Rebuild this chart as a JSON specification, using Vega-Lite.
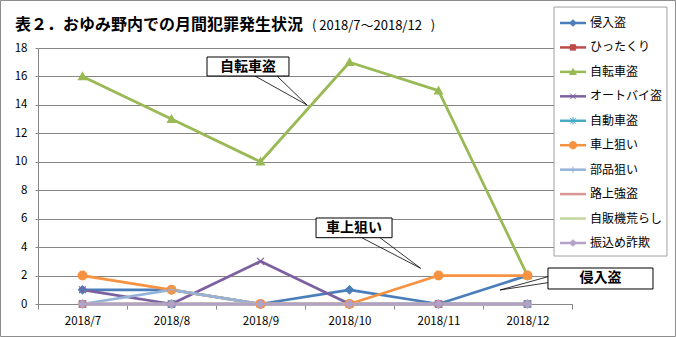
{
  "$schema": "https://vega.github.io/schema/vega-lite/v6.json",
  "width": 534,
  "height": 256,
  "autosize": {"type": "none"},
  "padding": {"left": 38, "top": 48, "right": 104, "bottom": 33},
  "background": "white",
  "config": {
    "view": {"stroke": null},
    "font": "Noto Sans CJK JP",
    "axis": {"labelColor": "black", "labelFont": "Noto Sans CJK JP"}
  },
  "datasets": {
    "crime": [
      {"month": "2018/7", "series": "侵入盗", "count": 1},
      {"month": "2018/8", "series": "侵入盗", "count": 1},
      {"month": "2018/9", "series": "侵入盗", "count": 0},
      {"month": "2018/10", "series": "侵入盗", "count": 1},
      {"month": "2018/11", "series": "侵入盗", "count": 0},
      {"month": "2018/12", "series": "侵入盗", "count": 2},
      {"month": "2018/7", "series": "ひったくり", "count": 0},
      {"month": "2018/8", "series": "ひったくり", "count": 0},
      {"month": "2018/9", "series": "ひったくり", "count": 0},
      {"month": "2018/10", "series": "ひったくり", "count": 0},
      {"month": "2018/11", "series": "ひったくり", "count": 0},
      {"month": "2018/12", "series": "ひったくり", "count": 0},
      {"month": "2018/7", "series": "自転車盗", "count": 16},
      {"month": "2018/8", "series": "自転車盗", "count": 13},
      {"month": "2018/9", "series": "自転車盗", "count": 10},
      {"month": "2018/10", "series": "自転車盗", "count": 17},
      {"month": "2018/11", "series": "自転車盗", "count": 15},
      {"month": "2018/12", "series": "自転車盗", "count": 2},
      {"month": "2018/7", "series": "オートバイ盗", "count": 1},
      {"month": "2018/8", "series": "オートバイ盗", "count": 0},
      {"month": "2018/9", "series": "オートバイ盗", "count": 3},
      {"month": "2018/10", "series": "オートバイ盗", "count": 0},
      {"month": "2018/11", "series": "オートバイ盗", "count": 0},
      {"month": "2018/12", "series": "オートバイ盗", "count": 0},
      {"month": "2018/7", "series": "自動車盗", "count": 0},
      {"month": "2018/8", "series": "自動車盗", "count": 0},
      {"month": "2018/9", "series": "自動車盗", "count": 0},
      {"month": "2018/10", "series": "自動車盗", "count": 0},
      {"month": "2018/11", "series": "自動車盗", "count": 0},
      {"month": "2018/12", "series": "自動車盗", "count": 0},
      {"month": "2018/7", "series": "車上狙い", "count": 2},
      {"month": "2018/8", "series": "車上狙い", "count": 1},
      {"month": "2018/9", "series": "車上狙い", "count": 0},
      {"month": "2018/10", "series": "車上狙い", "count": 0},
      {"month": "2018/11", "series": "車上狙い", "count": 2},
      {"month": "2018/12", "series": "車上狙い", "count": 2},
      {"month": "2018/7", "series": "部品狙い", "count": 0},
      {"month": "2018/8", "series": "部品狙い", "count": 1},
      {"month": "2018/9", "series": "部品狙い", "count": 0},
      {"month": "2018/10", "series": "部品狙い", "count": 0},
      {"month": "2018/11", "series": "部品狙い", "count": 0},
      {"month": "2018/12", "series": "部品狙い", "count": 0},
      {"month": "2018/7", "series": "路上強盗", "count": 0},
      {"month": "2018/8", "series": "路上強盗", "count": 0},
      {"month": "2018/9", "series": "路上強盗", "count": 0},
      {"month": "2018/10", "series": "路上強盗", "count": 0},
      {"month": "2018/11", "series": "路上強盗", "count": 0},
      {"month": "2018/12", "series": "路上強盗", "count": 0},
      {"month": "2018/7", "series": "自販機荒らし", "count": 0},
      {"month": "2018/8", "series": "自販機荒らし", "count": 0},
      {"month": "2018/9", "series": "自販機荒らし", "count": 0},
      {"month": "2018/10", "series": "自販機荒らし", "count": 0},
      {"month": "2018/11", "series": "自販機荒らし", "count": 0},
      {"month": "2018/12", "series": "自販機荒らし", "count": 0},
      {"month": "2018/7", "series": "振込め詐欺", "count": 0},
      {"month": "2018/8", "series": "振込め詐欺", "count": 0},
      {"month": "2018/9", "series": "振込め詐欺", "count": 0},
      {"month": "2018/10", "series": "振込め詐欺", "count": 0},
      {"month": "2018/11", "series": "振込め詐欺", "count": 0},
      {"month": "2018/12", "series": "振込め詐欺", "count": 0}
    ],
    "callouts": [
      {"label": "自転車盗", "bx1": 1.399, "bx2": 2.320, "by1": 17.367, "by2": 16.031, "ax1": 1.938, "ay1": 16.031, "ax2": 2.185, "ay2": 16.031, "tx": 2.522, "ty": 13.992, "cx": 1.860, "cy": 16.699},
      {"label": "車上狙い", "bx1": 2.624, "bx2": 3.478, "by1": 6.047, "by2": 4.662, "ax1": 3.137, "ay1": 4.662, "ax2": 3.343, "ay2": 4.662, "tx": 3.800, "ty": 2.51, "cx": 3.051, "cy": 5.354},
      {"label": "侵入盗", "bx1": 5.230, "bx2": 6.410, "by1": 2.531, "by2": 1.055, "ax1": 5.230, "ay1": 1.92, "ax2": 5.230, "ay2": 1.50, "tx": 4.691, "ty": 0.984, "cx": 5.820, "cy": 1.793}
    ]
  },
  "resolve": {"scale": {"x": "independent", "y": "independent"}},
  "layer": [
    {
      "data": {"values": [{}]},
      "mark": {"type": "rect", "fillOpacity": 0, "stroke": "#8C8C8C", "strokeWidth": 1},
      "encoding": {
        "x": {"datum": -0.9213, "type": "quantitative", "scale": {"domain": [-0.5, 5.5], "nice": false, "zero": false}, "axis": null},
        "x2": {"datum": 6.6629},
        "y": {"datum": 21.34, "type": "quantitative", "scale": {"domain": [0, 18], "nice": false, "zero": false}, "axis": null},
        "y2": {"datum": -2.285}
      }
    },
    {
      "data": {"name": "crime"},
      "mark": {"type": "line", "strokeWidth": 2.75, "strokeJoin": "round"},
      "encoding": {
        "x": {"field": "month", "type": "ordinal", "sort": null,
          "scale": {"type": "band", "domain": ["2018/7","2018/8","2018/9","2018/10","2018/11","2018/12"], "paddingInner": 0, "paddingOuter": 0},
          "axis": {"title": null, "labelAngle": 0, "tickBand": "extent", "domainColor": "#868686", "tickColor": "#868686", "tickSize": 5, "labelPadding": 6, "labelFontSize": 11.5, "grid": false}},
        "y": {"field": "count", "type": "quantitative",
          "scale": {"domain": [0, 18], "nice": false, "zero": false},
          "axis": {"title": null, "values": [0,2,4,6,8,10,12,14,16,18], "grid": true, "gridColor": "#868686", "domainColor": "#868686", "tickColor": "#868686", "tickSize": 3, "labelPadding": 8, "labelFontSize": 11.5}},
        "stroke": {"field": "series", "type": "nominal",
          "scale": {"domain": ["侵入盗","ひったくり","自転車盗","オートバイ盗","自動車盗","車上狙い","部品狙い","路上強盗","自販機荒らし","振込め詐欺"],
            "range": ["#4A7EBB","#BE4B48","#98B954","#7D60A0","#46AAC5","#F69240","#95B3D7","#D99694","#C3D69B","#B3A2C7"]},
          "legend": null}
      }
    },
    {
      "data": {"name": "crime"},
      "mark": {"type": "point", "filled": true, "opacity": 1, "size": 64, "strokeWidth": 1.2},
      "encoding": {
        "x": {"field": "month", "type": "ordinal", "sort": null,
          "scale": {"type": "band", "domain": ["2018/7","2018/8","2018/9","2018/10","2018/11","2018/12"], "paddingInner": 0, "paddingOuter": 0}, "axis": null},
        "y": {"field": "count", "type": "quantitative", "scale": {"domain": [0, 18], "nice": false, "zero": false}, "axis": null},
        "fill": {"field": "series", "type": "nominal",
          "scale": {"domain": ["侵入盗","ひったくり","自転車盗","オートバイ盗","自動車盗","車上狙い","部品狙い","路上強盗","自販機荒らし","振込め詐欺"],
            "range": ["#4A7EBB","#BE4B48","#98B954","#7D60A0","#46AAC5","#F69240","#95B3D7","#D99694","#C3D69B","#B3A2C7"]},
          "legend": null},
        "stroke": {"field": "series", "type": "nominal", "legend": null},
        "shape": {"field": "series", "type": "nominal", "legend": null,
          "scale": {"domain": ["侵入盗","ひったくり","自転車盗","オートバイ盗","自動車盗","車上狙い","部品狙い","路上強盗","自販機荒らし","振込め詐欺"],
            "range": [
              "M-1,0L0,-1L1,0L0,1Z",
              "M-0.8,-0.8H0.8V0.8H-0.8Z",
              "M0,-1L1,0.8H-1Z",
              "M-0.85,-0.85L0.85,0.85M-0.85,0.85L0.85,-0.85",
              "M-0.85,-0.85L0.85,0.85M-0.85,0.85L0.85,-0.85M0,-1.1V1.1",
              "M-1.1,0A1.1,1.1,0,1,1,1.1,0A1.1,1.1,0,1,1,-1.1,0Z",
              "M-1,0H1M0,-1V1",
              "M0,0",
              "M0,0",
              "M-1,0L0,-1L1,0L0,1Z"
            ]}}
      }
    },
    {
      "data": {"values": [{}]},
      "mark": {"type": "rect", "fill": "white", "stroke": "#A0A0A0", "strokeWidth": 1},
      "encoding": {
        "x": {"datum": 5.298, "type": "quantitative", "scale": {"domain": [-0.5, 5.5], "nice": false, "zero": false}, "axis": null},
        "x2": {"datum": 6.567},
        "y": {"datum": 20.88, "type": "quantitative", "scale": {"domain": [0, 18], "nice": false, "zero": false}, "axis": null},
        "y2": {"datum": 3.375}
      }
    },
    {
      "data": {"name": "crime"},
      "transform": [{"filter": "datum.month === '2018/7'"}],
      "mark": {"type": "rule", "strokeWidth": 2.5},
      "encoding": {
        "x": {"datum": 5.365, "type": "quantitative", "scale": {"domain": [-0.5, 5.5], "nice": false, "zero": false}, "axis": null},
        "x2": {"datum": 5.657},
        "y": {"field": "series", "type": "nominal", "sort": null,
          "scale": {"type": "point", "domain": ["侵入盗","ひったくり","自転車盗","オートバイ盗","自動車盗","車上狙い","部品狙い","路上強盗","自販機荒らし","振込め詐欺"], "range": [-25, 195], "padding": 0}, "axis": null},
        "stroke": {"field": "series", "type": "nominal", "legend": null}
      }
    },
    {
      "data": {"name": "crime"},
      "transform": [{"filter": "datum.month === '2018/7'"}],
      "mark": {"type": "point", "filled": true, "opacity": 1, "size": 45, "strokeWidth": 1},
      "encoding": {
        "x": {"datum": 5.511, "type": "quantitative", "scale": {"domain": [-0.5, 5.5], "nice": false, "zero": false}, "axis": null},
        "y": {"field": "series", "type": "nominal", "sort": null,
          "scale": {"type": "point", "domain": ["侵入盗","ひったくり","自転車盗","オートバイ盗","自動車盗","車上狙い","部品狙い","路上強盗","自販機荒らし","振込め詐欺"], "range": [-25, 195], "padding": 0}, "axis": null},
        "fill": {"field": "series", "type": "nominal", "legend": null},
        "stroke": {"field": "series", "type": "nominal", "legend": null},
        "shape": {"field": "series", "type": "nominal", "legend": null}
      }
    },
    {
      "data": {"name": "crime"},
      "transform": [{"filter": "datum.month === '2018/7'"}],
      "mark": {"type": "text", "font": "Noto Sans CJK JP", "fontSize": 12, "color": "black", "align": "left", "baseline": "middle"},
      "encoding": {
        "x": {"datum": 5.702, "type": "quantitative", "scale": {"domain": [-0.5, 5.5], "nice": false, "zero": false}, "axis": null},
        "y": {"field": "series", "type": "nominal", "sort": null,
          "scale": {"type": "point", "domain": ["侵入盗","ひったくり","自転車盗","オートバイ盗","自動車盗","車上狙い","部品狙い","路上強盗","自販機荒らし","振込め詐欺"], "range": [-25, 195], "padding": 0}, "axis": null},
        "text": {"field": "series"}
      }
    },
    {
      "data": {"name": "callouts"},
      "mark": {"type": "rule", "color": "black", "strokeWidth": 0.8},
      "encoding": {
        "x": {"field": "ax1", "type": "quantitative", "scale": {"domain": [-0.5, 5.5], "nice": false, "zero": false}, "axis": null},
        "y": {"field": "ay1", "type": "quantitative", "scale": {"domain": [0, 18], "nice": false, "zero": false}, "axis": null},
        "x2": {"field": "tx"},
        "y2": {"field": "ty"}
      }
    },
    {
      "data": {"name": "callouts"},
      "mark": {"type": "rule", "color": "black", "strokeWidth": 0.8},
      "encoding": {
        "x": {"field": "ax2", "type": "quantitative", "scale": {"domain": [-0.5, 5.5], "nice": false, "zero": false}, "axis": null},
        "y": {"field": "ay2", "type": "quantitative", "scale": {"domain": [0, 18], "nice": false, "zero": false}, "axis": null},
        "x2": {"field": "tx"},
        "y2": {"field": "ty"}
      }
    },
    {
      "data": {"name": "callouts"},
      "mark": {"type": "rect", "fill": "white", "stroke": "black", "strokeWidth": 1},
      "encoding": {
        "x": {"field": "bx1", "type": "quantitative", "scale": {"domain": [-0.5, 5.5], "nice": false, "zero": false}, "axis": null},
        "x2": {"field": "bx2"},
        "y": {"field": "by1", "type": "quantitative", "scale": {"domain": [0, 18], "nice": false, "zero": false}, "axis": null},
        "y2": {"field": "by2"}
      }
    },
    {
      "data": {"name": "callouts"},
      "mark": {"type": "text", "font": "Noto Sans CJK JP", "fontSize": 14, "fontWeight": "bold", "color": "black", "align": "center", "baseline": "middle"},
      "encoding": {
        "x": {"field": "cx", "type": "quantitative", "scale": {"domain": [-0.5, 5.5], "nice": false, "zero": false}, "axis": null},
        "y": {"field": "cy", "type": "quantitative", "scale": {"domain": [0, 18], "nice": false, "zero": false}, "axis": null},
        "text": {"field": "label"}
      }
    },
    {
      "data": {"values": [{"title": "表２．おゆみ野内での月間犯罪発生状況"}]},
      "mark": {"type": "text", "font": "Noto Sans CJK JP", "fontSize": 16, "fontWeight": "bold", "color": "black", "align": "left", "baseline": "alphabetic"},
      "encoding": {
        "x": {"datum": -0.758, "type": "quantitative", "scale": {"domain": [-0.5, 5.5], "nice": false, "zero": false}, "axis": null},
        "y": {"datum": 19.3, "type": "quantitative", "scale": {"domain": [0, 18], "nice": false, "zero": false}, "axis": null},
        "text": {"field": "title"}
      }
    },
    {
      "data": {"values": [{"period": "(\u00a02018/7～2018/12\u00a0\u00a0\u00a0)"}]},
      "mark": {"type": "text", "font": "Noto Sans CJK JP", "fontSize": 13, "color": "black", "align": "left", "baseline": "alphabetic"},
      "encoding": {
        "x": {"datum": 2.579, "type": "quantitative", "scale": {"domain": [-0.5, 5.5], "nice": false, "zero": false}, "axis": null},
        "y": {"datum": 19.3, "type": "quantitative", "scale": {"domain": [0, 18], "nice": false, "zero": false}, "axis": null},
        "text": {"field": "period"}
      }
    }
  ]
}
